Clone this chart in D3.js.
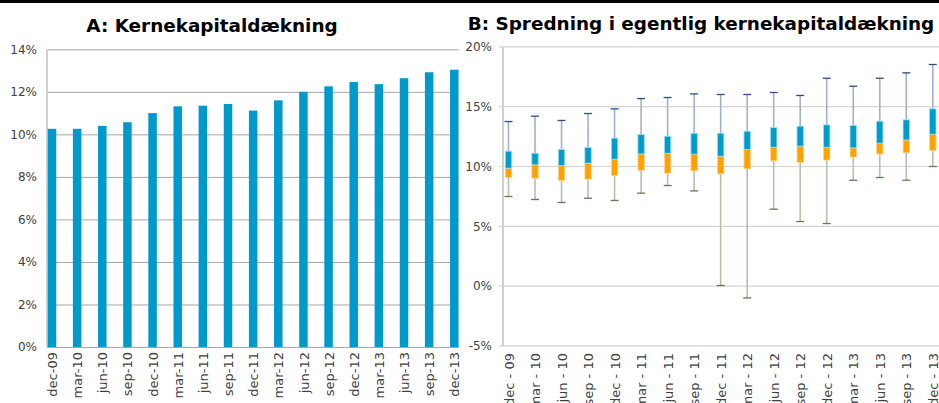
<!DOCTYPE html>
<html><head><meta charset="utf-8">
<script src="https://cdn.jsdelivr.net/npm/d3@7"></script>
<style>
html,body{margin:0;padding:0;background:#fff;}
svg{display:block;font-family:"DejaVu Sans",Verdana,sans-serif;}
</style></head>
<body>
<svg id="c" width="939" height="403"></svg>
<script>
// ---- Data ----
const catsA = ["dec-09","mar-10","jun-10","sep-10","dec-10","mar-11","jun-11","sep-11","dec-11","mar-12","jun-12","sep-12","dec-12","mar-13","jun-13","sep-13","dec-13"];
const kernekapital = [10.26,10.26,10.40,10.57,11.00,11.32,11.35,11.43,11.12,11.60,12.00,12.26,12.46,12.36,12.64,12.92,13.04];
const ticksA = [0,2,4,6,8,10,12,14];

const catsB = ["dec - 09","mar - 10","jun - 10","sep - 10","dec - 10","mar - 11","jun - 11","sep - 11","dec - 11","mar - 12","jun - 12","sep - 12","dec - 12","mar - 13","jun - 13","sep - 13","dec - 13"];
const minB    = [7.49,7.24,6.99,7.35,7.16,7.77,8.41,7.96,0.05,-0.99,6.43,5.40,5.23,8.85,9.08,8.85,10.00];
const q1B     = [9.08,9.02,8.83,8.94,9.25,9.68,9.44,9.63,9.38,9.80,10.47,10.33,10.53,10.78,11.05,11.14,11.34];
const medianB = [9.86,10.14,10.08,10.28,10.61,11.05,11.11,11.03,10.86,11.42,11.61,11.70,11.61,11.56,11.95,12.22,12.70];
const q3B     = [11.28,11.11,11.42,11.59,12.37,12.67,12.53,12.78,12.78,12.95,13.26,13.37,13.48,13.43,13.79,13.90,14.82];
const maxB    = [13.76,14.21,13.85,14.43,14.82,15.68,15.77,16.07,16.02,16.02,16.19,15.94,17.38,16.71,17.38,17.83,18.53];
const ticksB = [-5,0,5,10,15,20];

const svg = d3.select("#c");
const FONT = 12;
const XFONT = 13;

// top rule
svg.append("rect").attr("x",0).attr("y",0).attr("width",939).attr("height",3).attr("fill","#000");

// ---- Chart A ----
const xA = d3.scalePoint().domain(catsA).range([52, 454.3]);
const yA = d3.scaleLinear().domain([0,14]).range([347, 49.3]);
const gA = svg.append("g");
gA.append("text").attr("x",212).attr("y",31.5).attr("text-anchor","middle")
  .attr("font-size",18.4).attr("font-weight","bold").attr("fill","#000").text("A: Kernekapitaldækning");

gA.selectAll("line.grid").data(ticksA).join("line")
  .attr("x1",47).attr("x2",459).attr("y1",d=>yA(d)+0.5).attr("y2",d=>yA(d)+0.5)
  .attr("stroke","#a6a6a6").attr("stroke-width",1);
gA.append("line").attr("x1",47).attr("x2",47).attr("y1",yA(14)).attr("y2",yA(0))
  .attr("stroke","#d0d0d0").attr("stroke-width",2);

const axA = d3.axisLeft(yA).tickValues(ticksA).tickFormat(d=>d+"%").tickSize(0).tickPadding(0);
const gyA = gA.append("g").attr("transform","translate(37,0)").call(axA);
gyA.select(".domain").remove();
gyA.selectAll("text").attr("font-size",FONT).attr("fill","#404040").attr("font-family","DejaVu Sans");

gA.selectAll("rect.bar").data(kernekapital).join("rect")
  .attr("x",(d,i)=>xA(catsA[i])-4.25).attr("width",8.5)
  .attr("y",d=>yA(d)).attr("height",d=>yA(0)-yA(d))
  .attr("fill","#0099cc");

const axXA = d3.axisBottom(xA).tickSize(0).tickPadding(0);
const gxA = gA.append("g").attr("transform","translate(0,352)").call(axXA);
gxA.select(".domain").remove();
gxA.selectAll("text").attr("font-size",XFONT).attr("fill","#404040").attr("font-family","DejaVu Sans")
  .attr("text-anchor","end").attr("transform","rotate(-90)").attr("x",0).attr("y",0).attr("dy","0.35em");

// ---- Chart B ----
const xB = d3.scalePoint().domain(catsB).range([508.5, 932.8]);
const yB = d3.scaleLinear().domain([-5,20]).range([345.9, 46.9]);
const gB = svg.append("g");
gB.append("text").attr("x",701).attr("y",29.5).attr("text-anchor","middle")
  .attr("font-size",18.4).attr("font-weight","bold").attr("fill","#000").text("B: Spredning i egentlig kernekapitaldækning");

gB.selectAll("line.grid").data(ticksB).join("line")
  .attr("x1",499).attr("x2",939).attr("y1",d=>yB(d)).attr("y2",d=>yB(d))
  .attr("stroke","#d4d4d4").attr("stroke-width",1.2);
gB.append("line").attr("x1",503).attr("x2",503).attr("y1",yB(20)).attr("y2",yB(-5))
  .attr("stroke","#cfcfcf").attr("stroke-width",2);

const axB = d3.axisLeft(yB).tickValues(ticksB).tickFormat(d=>d+"%").tickSize(0).tickPadding(0);
const gyB = gB.append("g").attr("transform","translate(492,0)").call(axB);
gyB.select(".domain").remove();
gyB.selectAll("text").attr("font-size",FONT).attr("fill","#404040").attr("font-family","DejaVu Sans");

const idx = d3.range(catsB.length);
const boxes = gB.selectAll("g.box").data(idx).join("g").attr("class","box")
  .attr("transform",i=>`translate(${xB(catsB[i])},0)`);
// lower whisker
boxes.append("line").attr("x1",0).attr("x2",0).attr("y1",i=>yB(minB[i])).attr("y2",i=>yB(q1B[i]))
  .attr("stroke","#b3c1ad").attr("stroke-width",1.6);
boxes.append("line").attr("x1",-4).attr("x2",4).attr("y1",i=>yB(minB[i])).attr("y2",i=>yB(minB[i]))
  .attr("stroke","#5f7b55").attr("stroke-width",1.3);
// upper whisker
boxes.append("line").attr("x1",0).attr("x2",0).attr("y1",i=>yB(maxB[i])).attr("y2",i=>yB(q3B[i]))
  .attr("stroke","#a3b0cc").attr("stroke-width",1.6);
boxes.append("line").attr("x1",-4).attr("x2",4).attr("y1",i=>yB(maxB[i])).attr("y2",i=>yB(maxB[i]))
  .attr("stroke","#2f4b8a").attr("stroke-width",1.3);
// orange: q1 -> median
boxes.append("rect").attr("x",-3.2).attr("width",6.4)
  .attr("y",i=>yB(medianB[i])).attr("height",i=>yB(q1B[i])-yB(medianB[i]))
  .attr("fill","#ffa200").attr("stroke","#ffd590").attr("stroke-width",0.8);
// blue: median -> q3
boxes.append("rect").attr("x",-3.2).attr("width",6.4)
  .attr("y",i=>yB(q3B[i])).attr("height",i=>yB(medianB[i])-yB(q3B[i]))
  .attr("fill","#009ccc").attr("stroke","#9fdcf0").attr("stroke-width",0.8);

const axXB = d3.axisBottom(xB).tickSize(0).tickPadding(0);
const gxB = gB.append("g").attr("transform","translate(0,353)").call(axXB);
gxB.select(".domain").remove();
gxB.selectAll("text").attr("font-size",XFONT).attr("fill","#404040").attr("font-family","DejaVu Sans")
  .attr("text-anchor","end").attr("transform","rotate(-90)").attr("x",0).attr("y",0).attr("dy","0.35em");
</script>
</body></html>
